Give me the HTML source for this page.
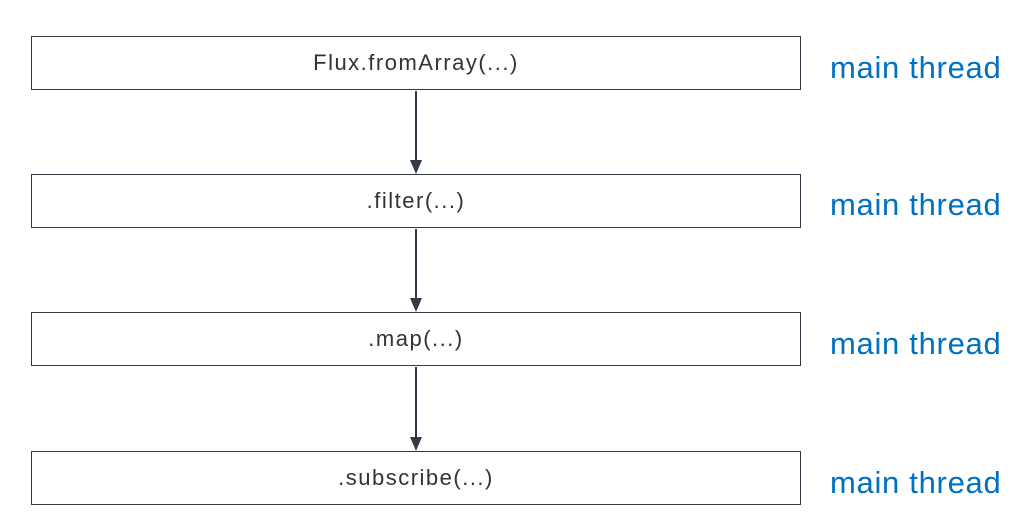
<!DOCTYPE html>
<html><head><style>
body{margin:0;width:1024px;height:518px;background:#fff;position:relative;overflow:hidden;font-family:"Liberation Sans","Noto Sans CJK KR",sans-serif}
.b{position:absolute;left:31px;width:768px;height:52px;border:1.5px solid #333a45;display:flex;align-items:center;justify-content:center;font-size:22px;color:#333;letter-spacing:1.5px}
.t{position:absolute;left:830px;font-size:31px;color:#0070c0;letter-spacing:0.7px;line-height:1}
</style></head><body>
<div class="b" style="top:36px">Flux.fromArray(...)</div>
<div class="b" style="top:174px">.filter(...)</div>
<div class="b" style="top:312px">.map(...)</div>
<div class="b" style="top:451px">.subscribe(...)</div>
<div class="t" style="top:52px">main thread</div>
<div class="t" style="top:189px">main thread</div>
<div class="t" style="top:328px">main thread</div>
<div class="t" style="top:467px">main thread</div>
<svg width="1024" height="518" style="position:absolute;left:0;top:0">
<g stroke="#333a45" stroke-width="2" fill="#333a45">
<line x1="416" y1="91" x2="416" y2="162"/><polygon points="410,160 422,160 416,174" stroke="none"/>
<line x1="416" y1="229" x2="416" y2="300"/><polygon points="410,298 422,298 416,312" stroke="none"/>
<line x1="416" y1="367" x2="416" y2="439"/><polygon points="410,437 422,437 416,451" stroke="none"/>
</g></svg>
</body></html>
